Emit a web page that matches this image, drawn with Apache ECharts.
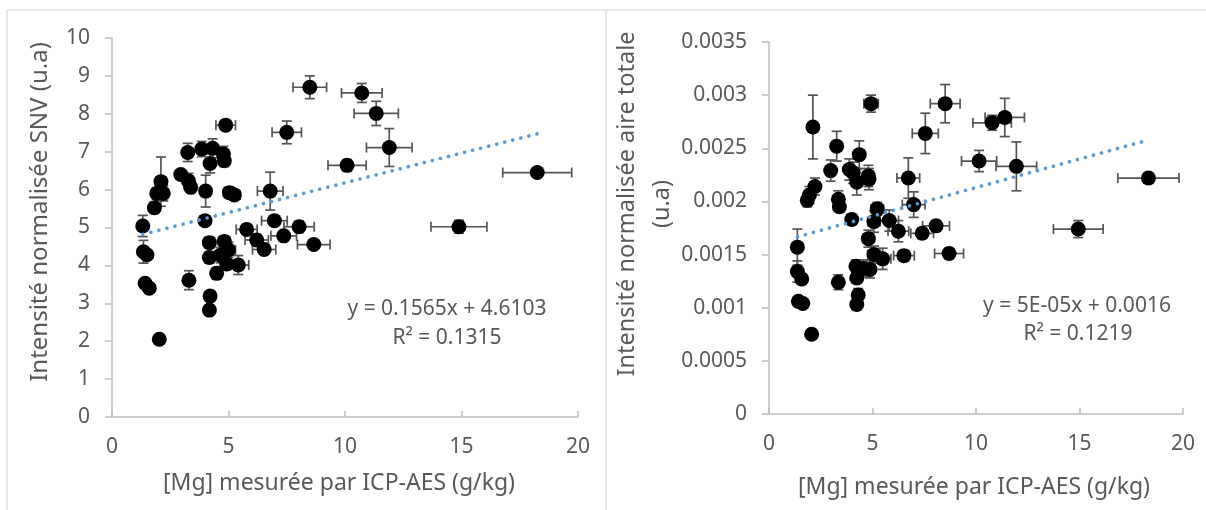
<!DOCTYPE html>
<html>
<head>
<meta charset="utf-8">
<script src="https://cdn.jsdelivr.net/npm/echarts@6/dist/echarts.min.js"></script>
<style>
html,body{margin:0;padding:0;background:#fff;}
#c{width:1206px;height:510px;}
</style>
</head>
<body>
<div id="c"></div>
<script>
// ---- Left panel: Intensité normalisée SNV ----
const leftX = [8.49,10.72,11.34,4.88,7.50,11.90,3.25,3.85,4.32,4.78,4.82,4.21,10.09,2.95,3.28,3.38,2.10,2.20,1.92,1.82,4.02,5.04,5.25,6.79,18.25,1.32,3.99,6.97,8.03,14.89,5.78,7.37,6.21,8.66,6.53,4.18,4.82,5.00,1.35,1.50,4.18,4.66,4.92,5.42,4.49,3.30,1.42,1.60,4.21,4.18,2.03];
const leftY = [8.70,8.55,8.01,7.70,7.51,7.11,6.98,7.07,7.09,6.94,6.76,6.69,6.64,6.40,6.23,6.06,6.21,5.90,5.90,5.52,5.96,5.92,5.86,5.96,6.45,5.04,5.18,5.18,5.02,5.02,4.95,4.78,4.67,4.55,4.42,4.60,4.63,4.41,4.36,4.28,4.21,4.27,4.04,4.01,3.79,3.61,3.53,3.40,3.19,2.82,2.05];
const leftXErr = [0.72,0.87,0.95,0.42,0.63,0.98,0.20,0.20,0.20,0.22,0.22,0.18,0.82,0.15,0.15,0.15,0.10,0.20,0.15,0.10,0.20,0.25,0.25,0.55,1.48,0.05,0.20,0.55,0.65,1.20,0.45,0.55,0.50,0.70,0.50,0.20,0.25,0.30,0.05,0.10,0.20,0.25,0.25,0.45,0.20,0.20,0.10,0.10,0.15,0.15,0.05];
const leftYErr = [0.30,0.25,0.32,0.10,0.30,0.50,0.24,0.20,0.25,0.20,0.15,0.25,0.15,0.10,0.20,0.10,0.65,0.20,0.15,0.15,0.42,0.15,0.10,0.50,0.10,0.28,0.10,0.12,0.15,0.17,0.12,0.10,0.15,0.10,0.12,0.15,0.15,0.20,0.30,0.10,0.15,0.20,0.15,0.25,0.15,0.25,0.12,0.05,0.10,0.10,0.05];

// ---- Right panel: Intensité normalisée aire totale ----
const rightX = [8.51,10.78,11.39,4.93,7.55,11.95,3.27,4.36,2.98,3.88,4.07,4.80,4.83,4.24,10.15,2.22,1.95,1.85,3.35,3.40,2.12,5.23,4.00,5.07,5.81,6.25,6.73,6.99,8.07,7.40,14.94,18.33,8.70,1.37,4.80,5.07,5.49,6.52,1.37,1.58,4.20,4.56,4.88,4.24,3.35,4.31,4.24,1.42,1.63,2.06];
const rightY = [0.00292,0.00274,0.00279,0.00292,0.00264,0.00233,0.00252,0.00244,0.00229,0.00230,0.00227,0.00224,0.00221,0.00218,0.00238,0.00214,0.00206,0.00201,0.00202,0.00195,0.00270,0.00193,0.00183,0.00181,0.00182,0.00172,0.00222,0.00197,0.00177,0.00170,0.00174,0.00222,0.00151,0.00157,0.00165,0.00150,0.00146,0.00149,0.00134,0.00127,0.00139,0.00137,0.00136,0.00128,0.00124,0.00112,0.00103,0.00106,0.00104,0.00075];
const rightXErr = [0.72,0.93,0.95,0.35,0.63,0.98,0.20,0.20,0.20,0.20,0.20,0.25,0.25,0.20,0.85,0.15,0.10,0.10,0.15,0.15,0.05,0.30,0.15,0.30,0.45,0.50,0.55,0.55,0.65,0.55,1.20,1.48,0.70,0.05,0.25,0.30,0.40,0.50,0.05,0.10,0.20,0.25,0.25,0.20,0.20,0.15,0.15,0.10,0.10,0.05];
const rightYErr = [0.00018,0.00007,0.00018,0.00008,0.00019,0.00023,0.00014,0.00013,0.00010,0.00010,0.00010,0.00010,0.00010,0.00012,0.00010,0.00008,0.00008,0.00006,0.00008,0.00005,0.00030,0.00006,0.00005,0.00010,0.00010,0.00010,0.00019,0.00012,0.00005,0.00005,0.00008,0.00005,0.00005,0.00017,0.00008,0.00008,0.00010,0.00005,0.00010,0.00005,0.00006,0.00008,0.00008,0.00005,0.00007,0.00006,0.00005,0.00003,0.00003,0.00002];

const xTicks = [0,5,10,15,20];
const leftYTicks = [0,1,2,3,4,5,6,7,8,9,10];
const rightYTicks = [0,0.0005,0.001,0.0015,0.002,0.0025,0.003,0.0035];

const xTitle = '[Mg] mesurée par ICP-AES (g/kg)';
const leftYTitle = 'Intensité normalisée SNV (u.a)';
const rightYTitle = 'Intensité normalisée aire totale\n(u.a)';
const leftEq = ['y = 0.1565x + 4.6103', 'R² = 0.1315'];
const rightEq = ['y = 5E-05x + 0.0016', 'R² = 0.1219'];

function zip(xs, ys, exs, eys) { return xs.map((x, i) => [x, ys[i], exs[i], eys[i]]); }
function fit(xs, ys) {
  const n = xs.length;
  const mx = xs.reduce((a, b) => a + b, 0) / n, my = ys.reduce((a, b) => a + b, 0) / n;
  let sxy = 0, sxx = 0;
  for (let i = 0; i < n; i++) { sxy += (xs[i] - mx) * (ys[i] - my); sxx += (xs[i] - mx) ** 2; }
  const b = sxy / sxx, a = my - b * mx;
  const x0 = Math.min(...xs), x1 = Math.max(...xs);
  return [[x0, a + b * x0], [x1, a + b * x1]];
}

const FONT = 'Noto Sans';
const TXT = '#595959';
const AXC = '#BFBFBF';

function errRender(params, api) {
  const x = api.value(0), y = api.value(1), ex = api.value(2), ey = api.value(3);
  const l = api.coord([x - ex, y]), r = api.coord([x + ex, y]);
  const t = api.coord([x, y + ey]), b = api.coord([x, y - ey]);
  const cap = 5;
  const st = { stroke: '#555555', lineWidth: 1.7 };
  const ln = (x1, y1, x2, y2) => ({ type: 'line', shape: { x1, y1, x2, y2 }, style: st });
  return { type: 'group', children: [
    ln(l[0], l[1], r[0], r[1]), ln(l[0], l[1] - cap, l[0], l[1] + cap), ln(r[0], r[1] - cap, r[0], r[1] + cap),
    ln(t[0], t[1], b[0], b[1]), ln(t[0] - cap, t[1], t[0] + cap, t[1]), ln(b[0] - cap, b[1], b[0] + cap, b[1])
  ]};
}

function xAxis(gi) {
  return { type: 'value', gridIndex: gi, min: 0, max: 20, interval: 5,
    axisLine: { show: true, lineStyle: { color: AXC, width: 1.5 } },
    axisTick: { show: true, inside: true, length: 6, lineStyle: { color: AXC, width: 1.5 } },
    axisLabel: { color: TXT, fontFamily: FONT, fontSize: 21, margin: 20 },
    splitLine: { show: false } };
}
function yAxis(gi, max, interval, fmt) {
  return { type: 'value', gridIndex: gi, min: 0, max, interval,
    axisLine: { show: true, lineStyle: { color: AXC, width: 1.5 } },
    axisTick: { show: true, length: 7, lineStyle: { color: AXC, width: 1.5 } },
    axisLabel: { color: TXT, fontFamily: FONT, fontSize: 21, margin: 22, formatter: fmt },
    splitLine: { show: false } };
}

const chart = echarts.init(document.getElementById('c'), null, { renderer: 'canvas' });
const trendStyle = { color: '#5B9BD5', width: 3.6, type: [0.1, 8.2], cap: 'round' };
const tstyle = { fill: TXT, fontFamily: FONT, fontSize: 21, textAlign: 'center', textVerticalAlign: 'middle' };

chart.setOption({
  animation: false,
  grid: [
    { left: 112, top: 38, right: 628, bottom: 93 },
    { left: 769, top: 42, right: 23, bottom: 96 }
  ],
  xAxis: [xAxis(0), xAxis(1)],
  yAxis: [
    yAxis(0, 10, 1, v => String(v)),
    yAxis(1, 0.0035, 0.0005, v => String(+v.toFixed(4)))
  ],
  series: [
    { type: 'custom', xAxisIndex: 0, yAxisIndex: 0, renderItem: errRender, data: zip(leftX, leftY, leftXErr, leftYErr), encode: { x: 0, y: 1 }, z: 2 },
    { type: 'scatter', xAxisIndex: 0, yAxisIndex: 0, data: leftX.map((x, i) => [x, leftY[i]]), symbolSize: 15, itemStyle: { color: '#000', opacity: 1 }, z: 3 },
    { type: 'line', xAxisIndex: 0, yAxisIndex: 0, data: fit(leftX, leftY), showSymbol: false, symbol: 'none', lineStyle: trendStyle, z: 4 },
    { type: 'custom', xAxisIndex: 1, yAxisIndex: 1, renderItem: errRender, data: zip(rightX, rightY, rightXErr, rightYErr), encode: { x: 0, y: 1 }, z: 2 },
    { type: 'scatter', xAxisIndex: 1, yAxisIndex: 1, data: rightX.map((x, i) => [x, rightY[i]]), symbolSize: 15, itemStyle: { color: '#000', opacity: 1 }, z: 3 },
    { type: 'line', xAxisIndex: 1, yAxisIndex: 1, data: fit(rightX, rightY), showSymbol: false, symbol: 'none', lineStyle: trendStyle, z: 4 }
  ],
  graphic: [
    { type: 'line', shape: { x1: 7, y1: 10, x2: 1206, y2: 10 }, style: { stroke: '#D9D9D9', lineWidth: 1.2 } },
    { type: 'line', shape: { x1: 7, y1: 10, x2: 7, y2: 510 }, style: { stroke: '#D9D9D9', lineWidth: 1.2 } },
    { type: 'line', shape: { x1: 606, y1: 10, x2: 606, y2: 510 }, style: { stroke: '#D9D9D9', lineWidth: 1.2 } },
    { type: 'text', x: 339, y: 483, style: Object.assign({}, tstyle, { text: xTitle, fontSize: 23 }) },
    { type: 'text', x: 974, y: 487, style: Object.assign({}, tstyle, { text: xTitle, fontSize: 23 }) },
    { type: 'text', x: 40, y: 212, rotation: Math.PI / 2, style: Object.assign({}, tstyle, { text: leftYTitle, fontSize: 24 }) },
    { type: 'text', x: 645, y: 204, rotation: Math.PI / 2, style: Object.assign({}, tstyle, { text: rightYTitle, fontSize: 23.5, lineHeight: 35 }) },
    { type: 'text', x: 447, y: 309, style: Object.assign({}, tstyle, { text: leftEq[0] }) },
    { type: 'text', x: 447, y: 338, style: Object.assign({}, tstyle, { text: leftEq[1] }) },
    { type: 'text', x: 1077, y: 306, style: Object.assign({}, tstyle, { text: rightEq[0] }) },
    { type: 'text', x: 1078, y: 334, style: Object.assign({}, tstyle, { text: rightEq[1] }) }
  ]
});
</script>
</body>
</html>
